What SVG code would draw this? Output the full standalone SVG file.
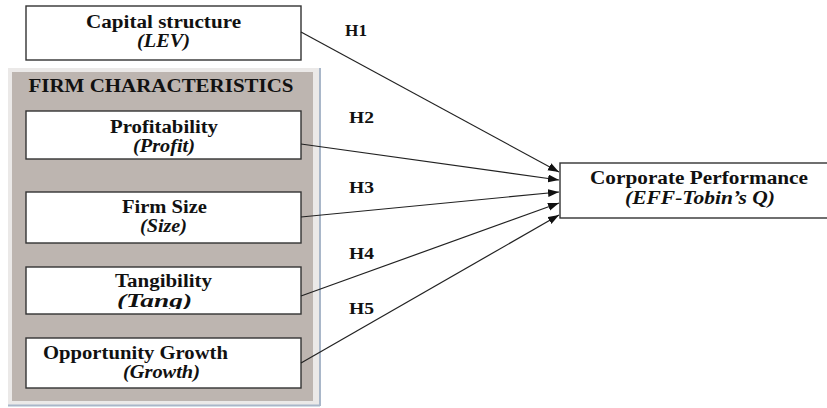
<svg xmlns="http://www.w3.org/2000/svg" width="827" height="408" viewBox="0 0 827 408">
<style>
.box{fill:#fff;stroke:#333;stroke-width:1.4}
.t{font-family:'Liberation Serif',serif;font-weight:bold;font-size:18px;fill:#111;text-anchor:middle}
.i{font-style:italic}
.h{font-family:'Liberation Serif',serif;font-weight:bold;font-size:16px;fill:#111}
.c{stroke:#222;stroke-width:1.2;fill:none;marker-end:url(#ah)}
</style>
<defs>
<marker id="ah" markerUnits="userSpaceOnUse" markerWidth="12" markerHeight="9" refX="11" refY="4" orient="auto">
<path d="M0,0 L11,4 L0,8 z" fill="#111"/>
</marker>
<clipPath id="tangclip"><rect x="26" y="267" width="275" height="42"/></clipPath>
</defs>
<rect width="827" height="408" fill="#fff"/>
<g id="panel">
<rect x="8" y="68" width="311" height="337" fill="#ebe9e8"/>
<rect x="12" y="72" width="301" height="329" fill="#bdb5b0"/>
<line x1="320" y1="68" x2="320" y2="406" stroke="#a9b7c9" stroke-width="2"/>
<line x1="8" y1="405.5" x2="320" y2="405.5" stroke="#a9b7c9" stroke-width="2"/>
<text class="t" x="161" y="92" font-size="19" textLength="265" lengthAdjust="spacingAndGlyphs">FIRM CHARACTERISTICS</text>
</g>
<g id="capital">
<rect class="box" x="26" y="6" width="275" height="54"/>
<text class="t" x="163.5" y="28" textLength="155" lengthAdjust="spacingAndGlyphs">Capital structure</text>
<text class="t i" x="163.5" y="47" textLength="53" lengthAdjust="spacingAndGlyphs">(LEV)</text>
</g>
<g id="profit">
<rect class="box" x="26" y="111" width="275" height="48"/>
<text class="t" x="164" y="133" textLength="108" lengthAdjust="spacingAndGlyphs">Profitability</text>
<text class="t i" x="164" y="152" textLength="62" lengthAdjust="spacingAndGlyphs">(Profit)</text>
</g>
<g id="size">
<rect class="box" x="26" y="192" width="275" height="51"/>
<text class="t" x="164.5" y="213" textLength="85" lengthAdjust="spacingAndGlyphs">Firm Size</text>
<text class="t i" x="163.5" y="232" textLength="47" lengthAdjust="spacingAndGlyphs">(Size)</text>
</g>
<g id="tang">
<rect class="box" x="26" y="267" width="275" height="47"/>
<text class="t" x="163.5" y="287" textLength="97" lengthAdjust="spacingAndGlyphs">Tangibility</text>
<text class="t i" x="154.5" y="307" textLength="75" lengthAdjust="spacingAndGlyphs" clip-path="url(#tangclip)">(Tang)</text>
</g>
<g id="growth">
<rect class="box" x="26" y="338" width="275" height="50"/>
<text class="t" x="135.5" y="359" textLength="185" lengthAdjust="spacingAndGlyphs">Opportunity Growth</text>
<text class="t i" x="161.5" y="378" textLength="77" lengthAdjust="spacingAndGlyphs">(Growth)</text>
</g>
<g id="performance">
<rect class="box" x="560" y="163" width="280" height="55"/>
<text class="t" x="699" y="184" font-size="17" textLength="218" lengthAdjust="spacingAndGlyphs">Corporate Performance</text>
<text class="t i" x="700" y="203.5" font-size="17" textLength="150" lengthAdjust="spacingAndGlyphs">(EFF-Tobin’s Q)</text>
</g>
<g id="connectors">
<line class="c" x1="301" y1="32" x2="559" y2="172"/>
<line class="c" x1="301" y1="144" x2="559" y2="180"/>
<line class="c" x1="301" y1="217" x2="559" y2="192"/>
<line class="c" x1="301" y1="296" x2="559" y2="203"/>
<line class="c" x1="301" y1="363" x2="559" y2="215"/>
<text class="h" x="345" y="36" textLength="22" lengthAdjust="spacingAndGlyphs">H1</text>
<text class="h" x="349" y="123" textLength="25" lengthAdjust="spacingAndGlyphs">H2</text>
<text class="h" x="349" y="193" textLength="25" lengthAdjust="spacingAndGlyphs">H3</text>
<text class="h" x="349" y="259" textLength="25" lengthAdjust="spacingAndGlyphs">H4</text>
<text class="h" x="349" y="314" textLength="25" lengthAdjust="spacingAndGlyphs">H5</text>
</g>
</svg>
